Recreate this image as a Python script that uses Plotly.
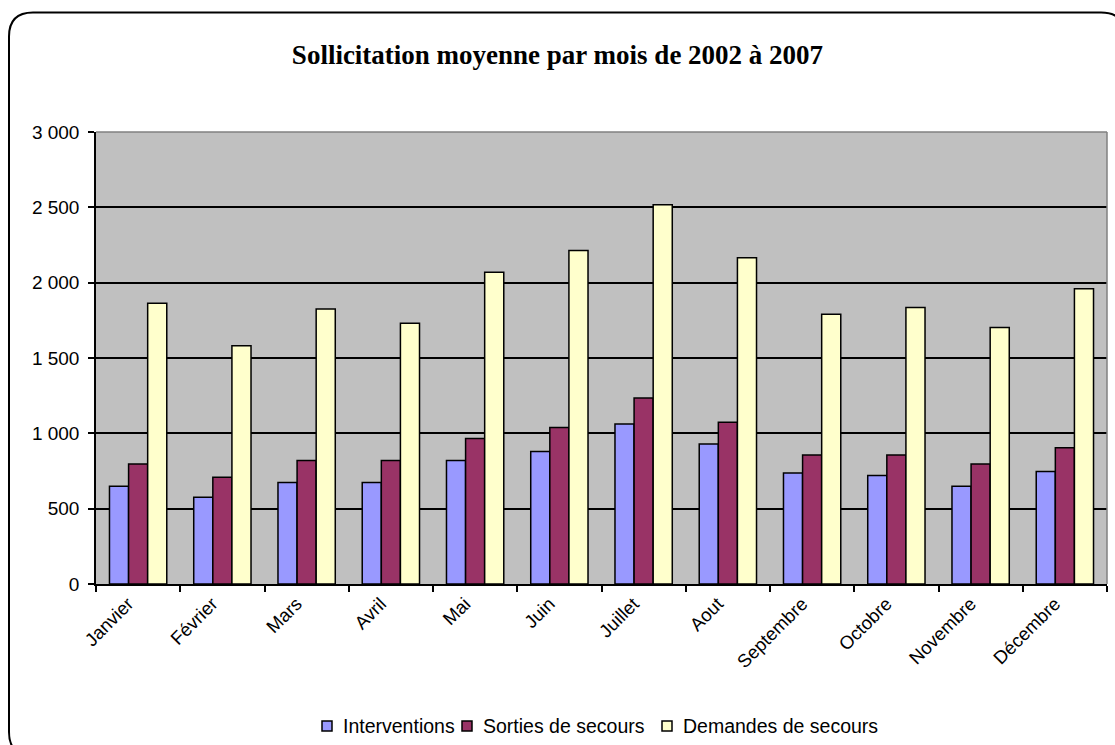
import plotly.graph_objects as go

months = ["Janvier", "Février", "Mars", "Avril", "Mai", "Juin", "Juillet",
          "Aout", "Septembre", "Octobre", "Novembre", "Décembre"]
interventions = [649, 576, 674, 674, 820, 880, 1062, 929, 736, 720, 649, 747]
sorties = [796, 709, 820, 820, 965, 1038, 1235, 1073, 856, 856, 796, 905]
demandes = [1863, 1581, 1825, 1730, 2069, 2213, 2517, 2166, 1790, 1836, 1703, 1960]

y_tickvals = [0, 500, 1000, 1500, 2000, 2500, 3000]
y_ticktext = ["0", "500", "1 000", "1 500", "2 000", "2 500", "3 000"]

title_text = "Sollicitation moyenne par mois de 2002 à 2007"
series_names = ["Interventions", "Sorties de secours", "Demandes de secours"]
series_colors = ["#9999FF", "#993366", "#FFFFCC"]

W, H = 1115, 745
L, R, T, B = 96, 8, 132, 161
PW = W - L - R
PH = H - T - B


def px(x):
    return (x - L) / PW


def py(y):
    return (H - B - y) / PH


fig = go.Figure()
for name, vals, col in zip(series_names, [interventions, sorties, demandes], series_colors):
    fig.add_trace(go.Bar(
        x=months, y=vals, name=name, showlegend=False,
        marker=dict(color=col, line=dict(color="black", width=1.5)),
    ))

# outer rounded border
x0, x1, y0, y1, r = 9, 1125, 12.5, 756, 24
path = (
    f"M {px(x0)},{py(y0 + r)} "
    f"Q {px(x0)},{py(y0)} {px(x0 + r)},{py(y0)} "
    f"L {px(x1 - r)},{py(y0)} "
    f"Q {px(x1)},{py(y0)} {px(x1)},{py(y0 + r)} "
    f"L {px(x1)},{py(y1 - r)} "
    f"Q {px(x1)},{py(y1)} {px(x1 - r)},{py(y1)} "
    f"L {px(x0 + r)},{py(y1)} "
    f"Q {px(x0)},{py(y1)} {px(x0)},{py(y1 - r)} Z"
)
shapes = [
    dict(type="path", xref="paper", yref="paper", path=path,
         line=dict(color="black", width=2), layer="above"),
    dict(type="line", xref="paper", yref="paper", x0=0, x1=1, y0=1, y1=1,
         line=dict(color="#808080", width=1.5), layer="above"),
    dict(type="line", xref="paper", yref="paper", x0=1, x1=1, y0=0, y1=1,
         line=dict(color="#808080", width=1.5), layer="above"),
]

# custom legend (square + label) laid out like the original
legend_sq_x = [322, 462, 662]
legend_cy = 726
sq = 10
annotations = []
for name, col, sx in zip(series_names, series_colors, legend_sq_x):
    shapes.append(dict(type="rect", xref="paper", yref="paper",
                       x0=px(sx), x1=px(sx + sq), y0=py(legend_cy + sq / 2), y1=py(legend_cy - sq / 2),
                       fillcolor=col, line=dict(color="black", width=1.5), layer="above"))
    annotations.append(dict(xref="paper", yref="paper", x=px(sx + sq + 9), y=py(legend_cy),
                            xanchor="left", yanchor="middle", showarrow=False, text=name,
                            font=dict(size=19.5, color="black")))

fig.update_layout(
    width=W, height=H,
    margin=dict(l=L, r=R, t=T, b=B, pad=0, autoexpand=False),
    paper_bgcolor="white",
    plot_bgcolor="#C0C0C0",
    font=dict(family="Liberation Sans, Arial, sans-serif", color="black", size=16),
    barmode="group",
    bargap=0.32,
    bargroupgap=0,
    showlegend=False,
    title=dict(text=f"<b>{title_text}</b>", x=0.5, xref="container", xanchor="center",
               y=1 - 55 / H, yanchor="middle",
               font=dict(family="Liberation Serif, Times New Roman, serif", size=27, color="black")),
    shapes=shapes,
    annotations=annotations,
    xaxis=dict(
        type="category", tickangle=-45, tickson="boundaries", ticks="outside",
        ticklen=6, tickcolor="black", tickwidth=1.5, showgrid=False,
        showline=True, linecolor="black", linewidth=1.5, automargin=False,
        ticklabelshift=-10,
        tickfont=dict(size=18.5), fixedrange=True,
    ),
    yaxis=dict(
        range=[0, 3000], tickvals=y_tickvals, ticktext=y_ticktext,
        ticks="outside", ticklen=6, tickcolor="black", tickwidth=1.5,
        showgrid=True, gridcolor="black", gridwidth=1.5, zeroline=False,
        showline=True, linecolor="black", linewidth=1.5, automargin=False,
        ticklabelstandoff=5,
        tickfont=dict(size=19), fixedrange=True,
    ),
)

fig.write_html("out.html")
